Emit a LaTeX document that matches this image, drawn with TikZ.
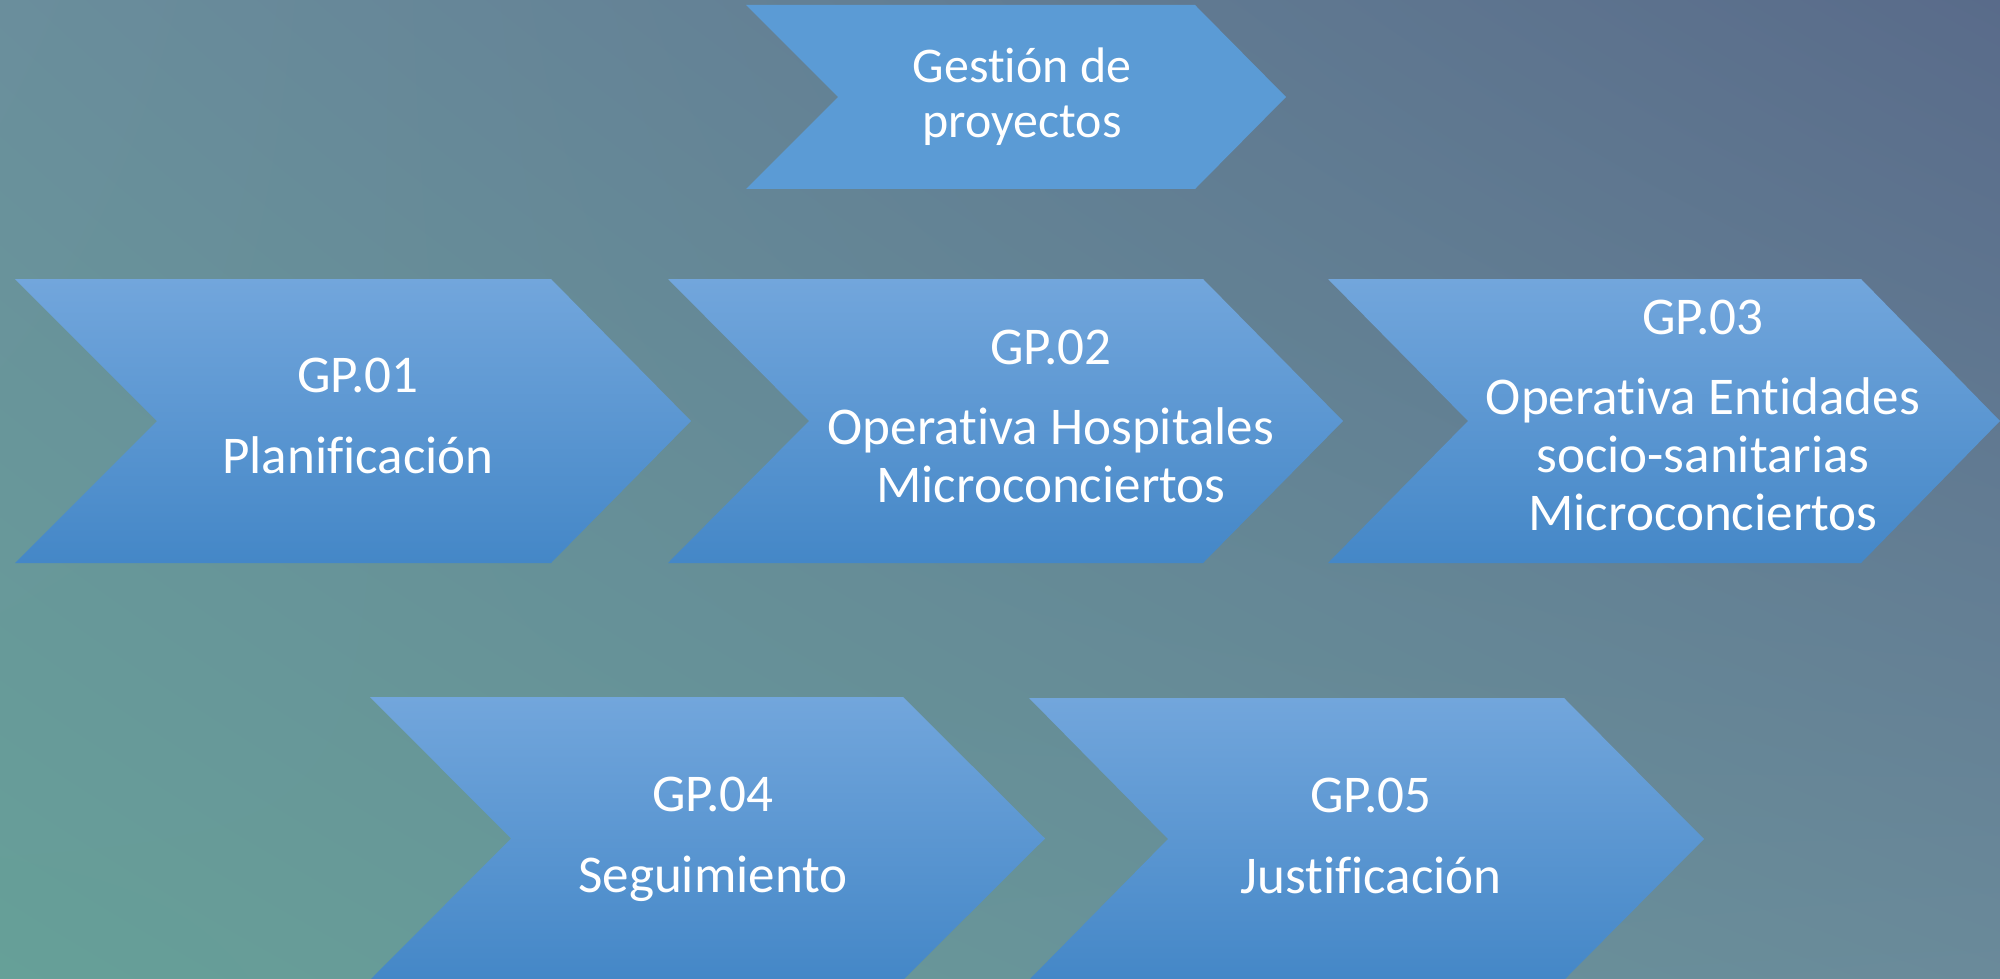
\documentclass[tikz,border=0pt]{standalone}
\usepackage{fontspec}
\setmainfont{Carlito}[Ligatures=NoCommon]
\usetikzlibrary{shadings}
\definecolor{bgteal}{HTML}{66A098}
\definecolor{bgslate}{HTML}{596B8A}
\definecolor{bgleft}{HTML}{6A8E9C}
\definecolor{bgright}{HTML}{6A8A9A}
\definecolor{chevtop}{HTML}{72A6DC}
\definecolor{chevmid}{HTML}{5A9BDD}
\definecolor{chevbot}{HTML}{4487C7}
\definecolor{chevflat}{HTML}{5B9BD5}
\tikzset{
  chevshade/.style={top color=chevtop, middle color=chevmid, bottom color=chevbot},
  chevflat/.style={fill=chevflat},
  toplabel/.style={anchor=base, inner sep=0pt, text=white, align=center,
    font=\fontsize{14.2pt}{15.65pt}\selectfont},
  steplabel/.style={anchor=base, inner sep=0pt, text=white, align=center,
    font=\fontsize{15.1pt}{16.36pt}\selectfont}
}
% chevron: style, left, notch, top right, tip, top, bottom
\newcommand{\chevron}[7]{%
  \path[#1] (#2,#6) -- (#4,#6) -- (#5,{(#6+#7)/2}) -- (#4,#7) -- (#2,#7)
    -- (#3,{(#6+#7)/2}) -- cycle;}
\begin{document}
\begin{tikzpicture}[x=0.01cm, y=-0.01cm]
\useasboundingbox (0,0) rectangle (2000,979);
\shade[upper left=bgleft, upper right=bgslate, lower left=bgteal, lower right=bgright]
  (0,0) rectangle (2000,979);

% shapes
\chevron{chevflat}{746}{838}{1195}{1286}{5}{189}
\chevron{chevshade}{15}{157}{551}{691}{279}{563}
\chevron{chevshade}{668}{809}{1203}{1343}{279}{563}
\chevron{chevshade}{1328}{1468}{1861}{2000}{279}{563}
\chevron{chevshade}{370}{511}{903}{1045}{697}{980}
\chevron{chevshade}{1029}{1168}{1564}{1704}{698}{980}

% labels (anchored on the last line)
\node[toplabel] (gestion) at (1022,138) {Gestión de\\proyectos};
\node[steplabel] (gp01) at (358,473) {GP.01\\[6.4pt]Planificación};
\node[steplabel] (gp02) at (1051,502) {GP.02\\[6.4pt]Operativa Hospitales\\Microconciertos};
\node[steplabel] (gp03) at (1703,530) {GP.03\\[6.4pt]Operativa Entidades\\socio-sanitarias\\Microconciertos};
\node[steplabel] (gp04) at (713,892) {GP.04\\[6.4pt]Seguimiento};
\node[steplabel] (gp05) at (1371,893) {GP.05\\[6.4pt]Justificación};
\end{tikzpicture}
\end{document}
